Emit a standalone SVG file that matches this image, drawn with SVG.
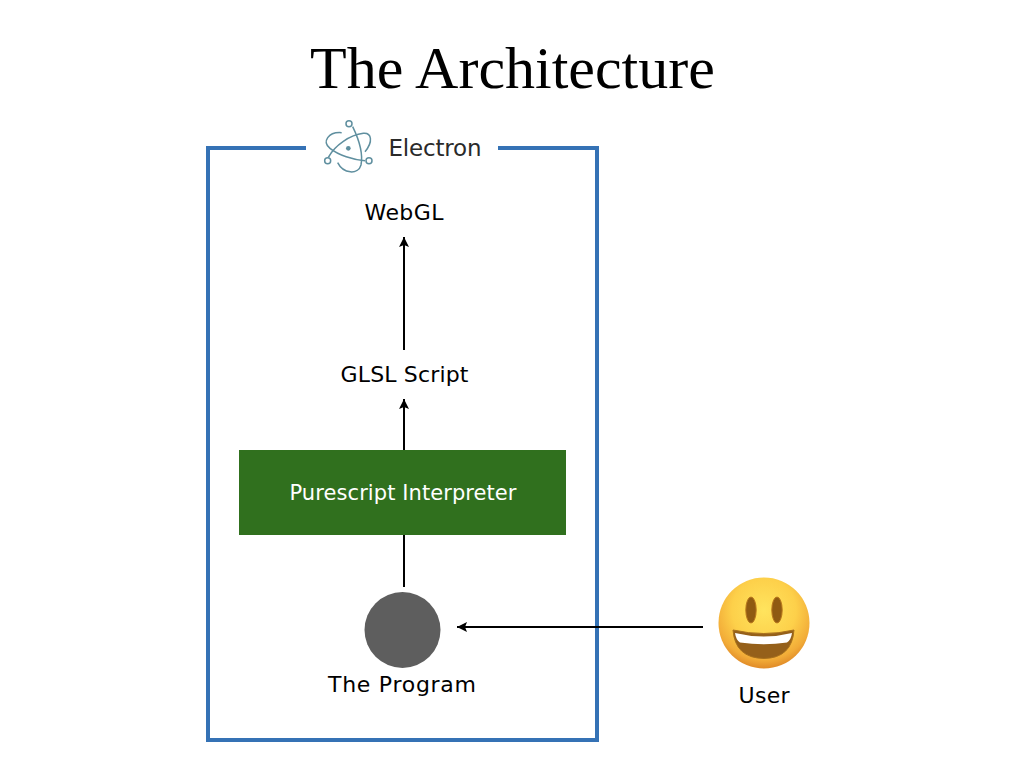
<svg xmlns="http://www.w3.org/2000/svg" width="1024" height="768" viewBox="0 0 1024 768">
<style>
.l{font-family:"DejaVu Sans","Noto Sans",sans-serif;font-size:22px;fill:#000;text-anchor:middle}
.c{stroke:#000;stroke-width:2;fill:none;marker-end:url(#a)}
.i{stroke:#5f8f9f;stroke-width:4.500;fill:none}
.n{stroke:#5f8f9f;stroke-width:4.500;fill:#fff}
</style>
<defs>
<marker id="a" markerUnits="userSpaceOnUse" markerWidth="11" markerHeight="10" refX="10" refY="5" orient="auto"><path d="M0 0L10 5L0 10L2 5Z" fill="#000"/></marker>
<radialGradient id="f" cx="50%" cy="36%" r="64%"><stop offset="0" stop-color="#ffe45e"/><stop offset=".55" stop-color="#fdd04a"/><stop offset=".85" stop-color="#f2ac38"/><stop offset="1" stop-color="#e08a28"/></radialGradient>
</defs>
<rect width="1024" height="768" fill="#fff"/>
<text x="512.500" y="88" text-anchor="middle" font-family="Liberation Serif,serif" font-size="60">The Architecture</text>
<g id="electron-frame">
<path d="M306 148H208V740H597V148H498" fill="none" stroke="#3572b5" stroke-width="4"/>
<g id="electron-icon" transform="translate(300 110) scale(.3333)">
<path class="i" d="M158 50C175 85 190 130 183 165C175 195 130 192 113 158"/>
<path class="i" d="M125 68C85 65 65 95 90 115C115 135 160 150 195 152"/>
<path class="i" d="M85 142C105 105 150 75 190 70C215 68 220 95 195 125"/>
<circle cx="145" cy="115" r="7" fill="#5f8f9f"/>
<circle class="n" cx="147" cy="41" r="9"/>
<circle class="n" cx="83" cy="152" r="9"/>
<circle class="n" cx="207" cy="152" r="9"/>
</g>
<text x="435" y="156" font-family="DejaVu Sans,sans-serif" font-size="23" fill="#2a2a2a" text-anchor="middle" textLength="93">Electron</text>
</g>
<g id="connectors">
<path class="c" d="M404 350V237"/>
<path class="c" d="M404 450V399"/>
<path d="M404 535V587" stroke="#000" stroke-width="2" fill="none"/>
<path class="c" d="M703 627H457"/>
</g>
<g id="webgl"><text class="l" x="404" y="220" textLength="79">WebGL</text></g>
<g id="glsl"><text class="l" x="404.500" y="382" textLength="128">GLSL Script</text></g>
<g id="interpreter"><rect x="239" y="450" width="327" height="85" fill="#30701e"/><text x="403" y="500" font-family="DejaVu Sans,sans-serif" font-size="21" fill="#fff" text-anchor="middle" textLength="227">Purescript Interpreter</text></g>
<g id="program"><circle cx="402.500" cy="630" r="38" fill="#5e5e5e"/><text class="l" x="402" y="692" textLength="148">The Program</text></g>
<g id="user">
<circle cx="764" cy="623" r="45.500" fill="url(#f)"/>
<ellipse cx="751" cy="610" rx="5.200" ry="13" fill="#8f5a12" stroke="#b9781c" stroke-width="1"/>
<ellipse cx="777" cy="610" rx="5.200" ry="13" fill="#8f5a12" stroke="#b9781c" stroke-width="1"/>
<path d="M733 630Q764 637 794 630Q792 658 764 658.500Q735 658 733 630Z" fill="#95601a" stroke="#a8701c" stroke-width="1"/>
<path d="M735 633Q764 640 792 633Q791 640 787 642.500Q764 646 740 642.500Q736 640 735 633Z" fill="#fff"/>
<text class="l" x="764" y="703" textLength="51">User</text>
</g>
</svg>
